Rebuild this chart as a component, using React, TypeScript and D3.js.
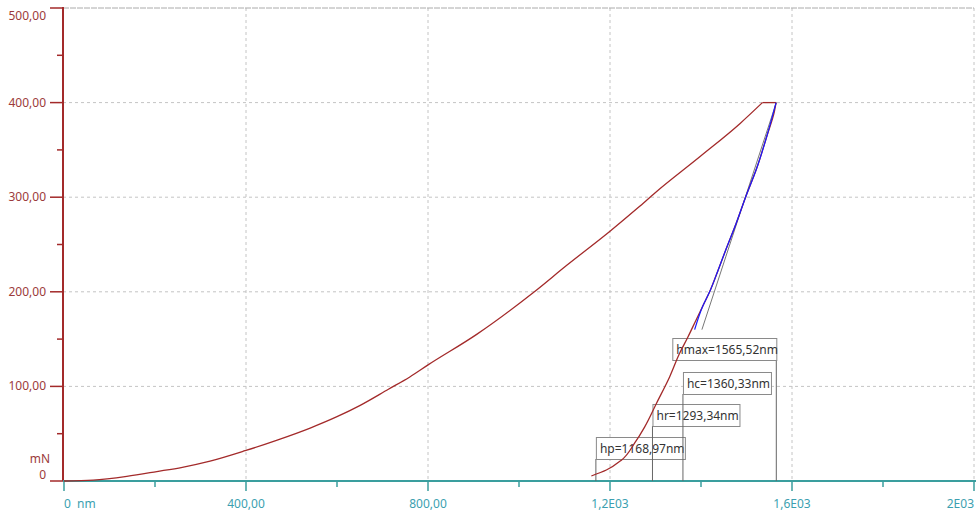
import React from "react";
import * as d3 from "d3";

// ---- Data ----
const xTickValues = [0, 400, 800, 1200, 1600, 2000];
const xTickLabels = ["0  nm", "400,00", "800,00", "1,2E03", "1,6E03", "2E03"];
const xMinorTicks = [200, 600, 1000, 1400, 1800];
const yTickValues = [0, 100, 200, 300, 400, 500];
const yTickLabels = ["0", "100,00", "200,00", "300,00", "400,00", "500,00"];
const yMinorTicks = [50, 150, 250, 350, 450];
const yUnit = "mN";

// loading curve [depth nm, force mN]
const loadingCurve: [number, number][] = [
  [0, 0], [64, 1], [138, 5], [204, 10], [260, 14.5], [321, 21], [398, 32], [467, 43],
  [541, 56], [600, 68], [651, 80], [713, 97], [760, 110], [801, 123], [907, 155],
  [1031, 199], [1105, 228], [1200, 264], [1262, 289], [1300, 305], [1398, 343],
  [1486, 378], [1535, 400],
];
// hold at max load
const holdSegment: [number, number][] = [[1535, 400], [1565, 400]];
// unloading curve
const unloadingCurve: [number, number][] = [
  [1565, 400], [1561, 390], [1545, 365], [1522, 330], [1498, 300], [1477, 272],
  [1455, 245], [1437, 222], [1419, 200], [1404, 185], [1389, 170], [1371, 152],
  [1353, 135], [1331, 110], [1302, 82], [1276, 57], [1254, 40], [1225, 22],
  [1192, 11.6], [1159, 5.3],
];
// power-law fit on upper unloading
const fitCurve: [number, number][] = [
  [1565, 400], [1545, 365], [1522, 330], [1498, 300], [1477, 272], [1455, 245],
  [1437, 222], [1419, 200], [1404, 185], [1386, 160],
];
// tangent at hmax
const tangentLine: [number, number][] = [[1565.52, 400], [1402, 160]];

const markerLabels = ["hp=1168,97nm", "hr=1293,34nm", "hc=1360,33nm", "hmax=1565,52nm"];
const markerValues = [1168.97, 1293.34, 1360.33, 1565.52];

// ---- layout ----
const W = 977, H = 513;
const x = d3.scaleLinear().domain([0, 2000]).range([64, 974]);
const y = d3.scaleLinear().domain([0, 500]).range([481, 8]);
const RED = "#a32a2a";
const LABEL_RED = "#9c3b3b";
const TEAL = "#3a9e9e";
const LABEL_TEAL = "#3c9fb0";
const GRID = "#c4c4c4";
const FONT = "'Noto Sans', 'Open Sans', sans-serif";

const boxLayout = [
  { top: 437, width: 89, anchorRight: false },
  { top: 404, width: 87, anchorRight: false },
  { top: 372, width: 88, anchorRight: false },
  { top: 338, width: 104, anchorRight: true },
];

const loadLine = d3.line<[number, number]>().x((d) => x(d[0])).y((d) => y(d[1])).curve(d3.curveMonotoneX);
const unloadLine = d3.line<[number, number]>().x((d) => x(d[0])).y((d) => y(d[1])).curve(d3.curveMonotoneY);
const straight = d3.line<[number, number]>().x((d) => x(d[0])).y((d) => y(d[1]));

export default function App() {
  const axisX = 63;
  return (
    <svg width={W} height={H} style={{ position: "absolute", left: 0, top: 0, background: "#fff" }}>
      {/* grid */}
      {xTickValues.filter((v) => v > 0).map((v) => (
        <line key={"gx" + v} x1={x(v)} x2={x(v)} y1={y(500)} y2={y(0)} stroke={GRID} strokeDasharray="3,3" />
      ))}
      {yTickValues.filter((v) => v > 0).map((v) => (
        <line key={"gy" + v} x1={axisX} x2={x(2000)} y1={y(v)} y2={y(v)} stroke={v === 500 ? "#aaa" : GRID} strokeDasharray={v === 500 ? "6,1" : "3,3"} />
      ))}

      {/* y axis */}
      <line x1={axisX} x2={axisX} y1={y(500) - 1} y2={y(0)} stroke={RED} strokeWidth={2} />
      {yTickValues.map((v) => (
        <line key={"yt" + v} x1={axisX - 13} x2={axisX} y1={y(v)} y2={y(v)} stroke={RED} strokeWidth={1.5} />
      ))}
      {yMinorTicks.map((v) => (
        <line key={"ym" + v} x1={axisX - 6} x2={axisX} y1={y(v)} y2={y(v)} stroke={RED} strokeWidth={1.5} />
      ))}
      {yTickValues.map((v, i) => {
        let ty = y(v) + 4;
        if (v === 500) ty = y(v) + 12;
        if (v === 0) ty = y(v) - 2;
        return (
          <text key={"yl" + v} x={46} y={ty} textAnchor="end" fontFamily={FONT} fontSize={12} fill={LABEL_RED}>
            {yTickLabels[i]}
          </text>
        );
      })}
      <text x={50} y={y(0) - 18} textAnchor="end" fontFamily={FONT} fontSize={12} fill={LABEL_RED}>{yUnit}</text>

      {/* x axis */}
      <line x1={axisX} x2={x(2000) + 2} y1={y(0)} y2={y(0)} stroke={TEAL} strokeWidth={2} />
      {xTickValues.map((v) => (
        <line key={"xt" + v} x1={x(v)} x2={x(v)} y1={y(0)} y2={y(0) + 10} stroke={TEAL} strokeWidth={1.5} />
      ))}
      {xMinorTicks.map((v) => (
        <line key={"xm" + v} x1={x(v)} x2={x(v)} y1={y(0)} y2={y(0) + 6} stroke={TEAL} strokeWidth={1.5} />
      ))}
      {xTickValues.map((v, i) => {
        const anchor = i === 0 ? "start" : i === xTickValues.length - 1 ? "end" : "middle";
        return (
          <text key={"xl" + v} x={x(v)} y={508} textAnchor={anchor} fontFamily={FONT} fontSize={12} fill={LABEL_TEAL} style={{ whiteSpace: "pre" }}>
            {xTickLabels[i]}
          </text>
        );
      })}

      {/* markers */}
      {markerValues.map((v, i) => {
        const b = boxLayout[i];
        const lx = x(v);
        const bx = b.anchorRight ? lx - b.width : lx;
        return (
          <g key={"mk" + i}>
            <line x1={lx} x2={lx} y1={b.top + 22} y2={y(0)} stroke="#666" strokeWidth={1} />
            <rect x={bx + 0.5} y={b.top + 0.5} width={b.width} height={22} fill="#fff" stroke="#8a8a8a" strokeWidth={1} />
            <text x={bx + 4} y={b.top + 16} fontFamily={FONT} fontSize={12} fill="#333">{markerLabels[i]}</text>
          </g>
        );
      })}

      {/* curves */}
      <path d={straight(tangentLine) || ""} fill="none" stroke="#777" strokeWidth={1} />
      <path d={loadLine(loadingCurve) || ""} fill="none" stroke={RED} strokeWidth={1.3} />
      <path d={straight(holdSegment) || ""} fill="none" stroke={RED} strokeWidth={1.3} />
      <path d={unloadLine(unloadingCurve) || ""} fill="none" stroke={RED} strokeWidth={1.3} />
      <path d={unloadLine(fitCurve) || ""} fill="none" stroke="#1a1aff" strokeWidth={1.2} />
    </svg>
  );
}
